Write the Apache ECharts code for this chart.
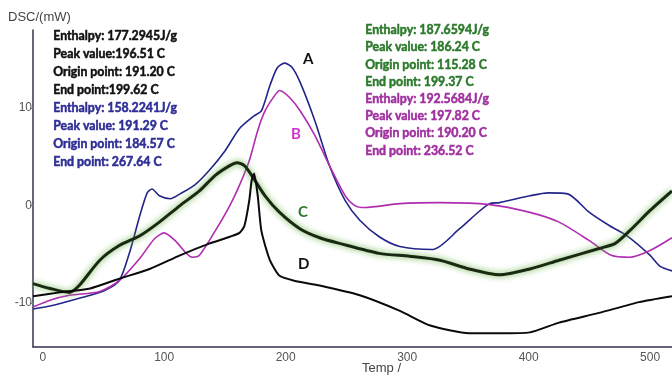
<!DOCTYPE html>
<html>
<head>
<meta charset="utf-8">
<script src="https://cdn.jsdelivr.net/npm/echarts@6/dist/echarts.min.js"></script>
<style>
  html, body { margin: 0; padding: 0; background: #fff; }
  #chart { width: 672px; height: 377px; }
</style>
</head>
<body>
<div id="chart"></div>
<script>
// temperature (x) and DSC (y) readings, one pair of arrays per curve
var tempA = [-8, 6, 30, 51, 63, 72, 80, 86, 90, 96, 105, 113, 125, 137, 150, 162, 174, 180, 187, 193, 199, 205, 212, 224, 236, 249, 261, 277, 294, 321, 343, 368, 376, 401, 416, 432, 450, 467, 481, 500, 508, 518];
var dscA  = [-10.6, -10.3, -9.5, -8.7, -7.7, -4.6, -1.0, 1.3, 1.7, 1.0, 0.7, 1.2, 2.1, 3.6, 5.6, 7.9, 9.2, 9.7, 12.3, 14.1, 14.6, 14.2, 12.6, 8.7, 4.1, 0.5, -1.5, -3.2, -4.2, -4.5, -2.4, 0.2, 0.3, 1.0, 1.3, 1.2, -0.7, -2.1, -3.1, -5.1, -6.2, -6.7];

var tempB = [-8, 6, 22, 47, 63, 80, 92, 100, 109, 123, 129, 142, 154, 162, 170, 177, 183, 191, 195, 203, 212, 224, 236, 249, 257, 265, 294, 327, 368, 401, 425, 450, 468, 483, 500, 518];
var dscB  = [-10.4, -9.7, -9.2, -8.8, -7.7, -5.4, -3.4, -2.8, -3.6, -5.3, -5.1, -2.6, 0, 2.1, 4.6, 7.7, 9.7, 11.3, 11.8, 11.1, 9.7, 7.2, 4.1, 1.0, 0, -0.2, 0.2, 0.3, 0.1, -0.7, -1.7, -3.6, -5.1, -5.3, -4.6, -3.3];

var tempC = [-8, 6, 22, 30, 47, 63, 80, 96, 113, 129, 142, 154, 160, 166, 172, 183, 195, 212, 228, 245, 277, 302, 327, 351, 376, 401, 425, 458, 471, 483, 500, 518];
var dscC  = [-8.0, -8.5, -8.9, -8.2, -5.6, -4.1, -3.1, -1.7, 0, 1.5, 3.1, 4.1, 4.4, 4.1, 3.1, 1.0, -0.7, -2.4, -3.3, -3.9, -4.9, -5.2, -5.6, -6.5, -7.1, -6.5, -5.6, -4.4, -3.9, -2.6, -0.5, 1.5];

var tempD = [-8, 14, 39, 63, 88, 113, 137, 154, 162, 166, 170, 172, 174, 177, 180, 187, 195, 207, 228, 261, 294, 319, 351, 376, 401, 425, 458, 491, 518];
var dscD  = [-9.3, -8.9, -8.5, -7.5, -6.5, -5.1, -3.9, -3.2, -2.8, -2.1, 0.5, 2.6, 3.3, 1.0, -2.6, -5.6, -7.2, -7.7, -8.2, -9.2, -10.8, -12.3, -13.1, -13.1, -13.0, -12.0, -11.0, -9.9, -9.3];

var xTicks = [0, 100, 200, 300, 400, 500];
var yTicks = [-10, 0, 10];

var leftNotes = [
  'Enthalpy: 177.2945J/g', 'Peak value:196.51 C', 'Origin point: 191.20 C', 'End point:199.62 C',
  'Enthalpy: 158.2241J/g', 'Peak value: 191.29 C', 'Origin point: 184.57 C', 'End point: 267.64 C'
];
var rightNotes = [
  'Enthalpy: 187.6594J/g', 'Peak value: 186.24 C', 'Origin point: 115.28 C', 'End point: 199.37 C',
  'Enthalpy: 192.5684J/g', 'Peak value: 197.82 C', 'Origin point: 190.20 C', 'End point: 236.52 C'
];

function pairs(xs, ys) {
  return xs.map(function (x, i) { return [x, ys[i]]; });
}

var noteFont = 'bold 12.3px Lato, "Open Sans", sans-serif';
var graphics = [];
function note(t, x, y, color) {
  graphics.push({ type: 'text', left: x, top: y,
    style: { text: t, font: noteFont, fill: color, stroke: color, lineWidth: 0.5 } });
}
leftNotes.forEach(function (t, i) { note(t, 53, 30 + i * 17.9, i < 4 ? '#111111' : '#2e2e96'); });
rightNotes.forEach(function (t, i) { note(t, 365, 24 + i * 17.2, i < 4 ? '#2d7a2d' : '#a030a0'); });
graphics.push({ type: 'text', left: 8, top: 11, style: { text: 'DSC/(mW)', font: '13px Arial, sans-serif', fill: '#444' } });
graphics.push({ type: 'text', left: 362, top: 362, style: { text: 'Temp /', font: '13px Arial, sans-serif', fill: '#444' } });

var curveLabels = [
  ['A', 303, 52, '#111111'], ['B', 291, 127, '#cc33cc'],
  ['C', 298, 205, '#2d7a2d'], ['D', 298, 257, '#111111']
];
curveLabels.forEach(function (c) {
  graphics.push({ type: 'text', left: c[1], top: c[2], style: { text: c[0], font: 'bold 15px Lato, sans-serif', fill: c[3] } });
});

var chart = echarts.init(document.getElementById('chart'));
chart.setOption({
  animation: false,
  grid: { left: 33, right: 0, top: 30, bottom: 30 },
  xAxis: {
    type: 'value', min: -8, max: 518,
    splitLine: { show: false },
    axisLine: { onZero: false, lineStyle: { color: '#33334d', width: 1.5 } },
    axisTick: { show: false, customValues: xTicks },
    axisLabel: { customValues: xTicks, color: '#555', fontSize: 12, margin: 5 }
  },
  yAxis: {
    type: 'value', min: -14.5, max: 18,
    splitLine: { show: false },
    axisLine: { show: true, onZero: false, lineStyle: { color: '#33334d', width: 1.5 } },
    axisTick: { show: true, length: 3, customValues: yTicks, lineStyle: { color: '#888' } },
    axisLabel: { customValues: yTicks, color: '#555', fontSize: 12, margin: 1 }
  },
  series: [
    { type: 'line', name: 'A', data: pairs(tempA, dscA), smooth: 0.25, symbol: 'none',
      lineStyle: { color: '#24248a', width: 1.6 } },
    { type: 'line', name: 'B', data: pairs(tempB, dscB), smooth: 0.25, symbol: 'none',
      lineStyle: { color: '#b02db0', width: 1.6 } },
    { type: 'line', name: 'C', data: pairs(tempC, dscC), smooth: 0.25, symbol: 'none',
      lineStyle: { color: '#1a2a12', width: 3, shadowColor: '#5fae3c', shadowBlur: 6 } },
    { type: 'line', name: 'D', data: pairs(tempD, dscD), smooth: 0.2, symbol: 'none',
      lineStyle: { color: '#0a0a0a', width: 2 } }
  ],
  graphic: graphics
});
</script>
</body>
</html>
